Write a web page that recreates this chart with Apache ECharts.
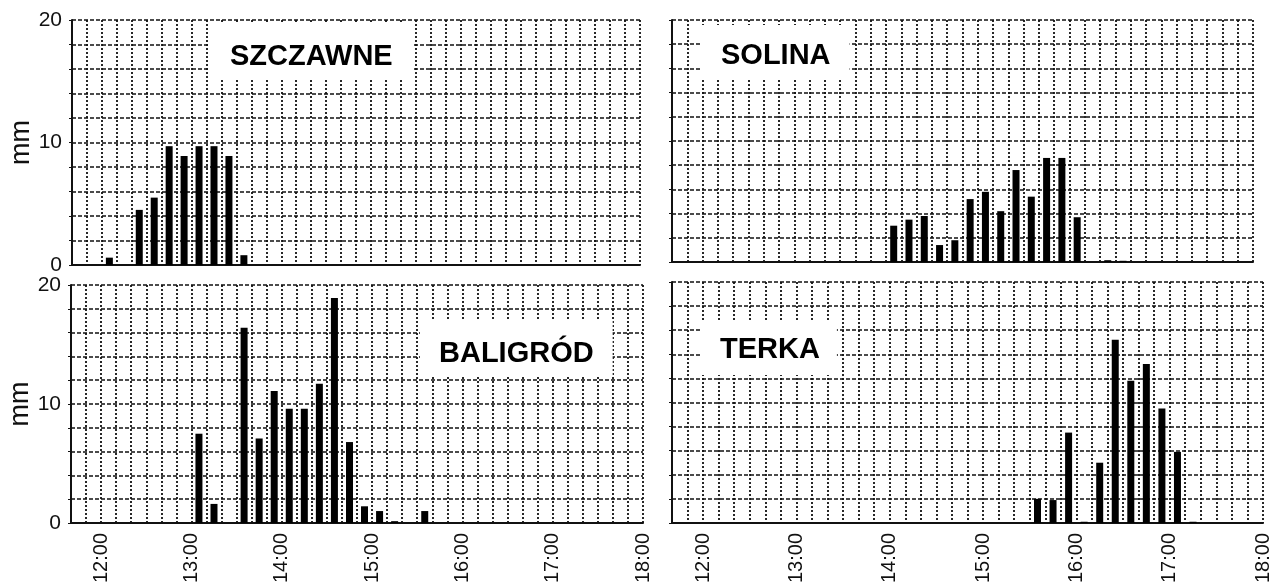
<!DOCTYPE html>
<html><head><meta charset="utf-8">
<script src="https://cdn.jsdelivr.net/npm/echarts@6/dist/echarts.min.js"></script>
<style>html,body{margin:0;padding:0;background:#fff;}#c{width:1273px;height:586px;}</style>
</head><body><div id="c"></div>
<script>
// 10-minute rainfall intervals (slot start times)
const slots = ['11:40','11:50','12:00','12:10','12:20','12:30','12:40','12:50',
  '13:00','13:10','13:20','13:30','13:40','13:50','14:00','14:10','14:20','14:30',
  '14:40','14:50','15:00','15:10','15:20','15:30','15:40','15:50','16:00','16:10',
  '16:20','16:30','16:40','16:50','17:00','17:10','17:20','17:30','17:40','17:50'];
const hourLabels = ['12:00','13:00','14:00','15:00','16:00','17:00','18:00'];
const yTickLabels = ['0','10','20'];
const stationNames = ['SZCZAWNE','SOLINA','BALIGRÓD','TERKA'];
const szczawne = [0,0,0.6,0,4.5,5.5,9.7,8.9,9.7,9.7,8.9,0.8,
  0,0,0,0,0,0,0,0,0,0,0,0,0,0,0,0,0,0,0,0,0,0,0,0,0,0];
const solina = [0,0,0,0,0,0,0,0,0,0,0,0,0,0,
  3.0,3.5,3.8,1.4,1.8,5.2,5.8,4.2,7.6,5.4,8.6,8.6,3.7,
  0,0.15,0.1,0,0,0,0,0,0,0,0];
const baligrod = [0,0,0,0,0,0,0,0,
  7.5,1.6,0,16.4,7.1,11.1,9.6,9.6,11.7,18.9,6.8,1.4,1.0,0.15,0,1.0,
  0,0,0,0,0,0,0,0,0,0,0,0,0,0];
const terka = [0,0,0,0,0,0,0,0,0,0,0,0,0,0,0,0,0,0,0,0,0,0,0,
  2.0,1.9,7.5,0.1,5.0,15.2,11.8,13.2,9.5,5.9,0.1,
  0,0,0,0];

function toMin(s){const p=s.split(':');return (+p[0])*60+(+p[1]);}
function fmtTime(v){const h=Math.floor(v/60),m=v%60;return h+':'+(m<10?'0':'')+m;}
const xMin = toMin(slots[0]);
const xMax = toMin(hourLabels[hourLabels.length-1]);
const step = toMin(slots[1]) - toMin(slots[0]);
function toData(arr){
  const out=[];
  arr.forEach((v,i)=>{ if(v>0) out.push([toMin(slots[i])+step/2, v]); });
  return out;
}
const FONT = "'Liberation Sans', Arial, sans-serif";
const grids = [
  {left:72, top:20, width:568, height:245},
  {left:672, top:20, width:581, height:242},
  {left:71, top:285, width:572, height:242},
  {left:672, top:282, width:591, height:247}
];
const vSplit = {show:true, lineStyle:{color:'#111', width:1.8, type:[2,2]}};
const hSplit = {show:true, lineStyle:{color:'#111', width:1.6, type:[4,2]}};
const xAxes = grids.map((g,i)=>({
  type:'value', gridIndex:i, min:xMin, max:xMax, interval:step,
  axisLine:{show:true, onZero:true, lineStyle:{color:'#111', width:2}},
  axisTick:{show:false},
  splitLine:vSplit,
  axisLabel:{show: i>=2, rotate:90, margin:10, fontSize:20, color:'#111', fontFamily:FONT,
    formatter:v=>{const s=fmtTime(v);return hourLabels.includes(s)?s:'';}}
}));
const yAxes = grids.map((g,i)=>({
  type:'value', gridIndex:i, min:0, max:20, interval:2,
  name: (i%2===0)?'mm':'', nameLocation:'middle', nameGap:36, nameRotate:90,
  nameTextStyle:{fontSize:27, color:'#111', fontFamily:FONT},
  axisLine:{show:true, lineStyle:{color:'#111', width:2}},
  axisTick:{show:true, length:3, lineStyle:{color:'#111'}},
  splitLine:hSplit,
  axisLabel:{show: i%2===0, fontSize:21, color:'#111', margin:10, fontFamily:FONT,
    formatter:v=>yTickLabels.includes(String(v))?String(v):''}
}));
const seriesData = [szczawne, solina, baligrod, terka];
const series = seriesData.map((arr,i)=>({
  type:'bar', xAxisIndex:i, yAxisIndex:i, data:toData(arr),
  barWidth:7, itemStyle:{color:'#000'}, z:3, silent:true
}));
const titleBoxes = [
  {left:208, top:22, padding:[20,21,6,22]},
  {left:702, top:25, padding:[16,19,9,19]},
  {left:420, top:319, padding:[20,19,8,19]},
  {left:702, top:320, padding:[15,17,10,18]}
];
const titles = titleBoxes.map((b,i)=>({
  text: stationNames[i], left:b.left, top:b.top, padding:b.padding,
  backgroundColor:'#fff', z:10,
  textStyle:{fontSize:29, fontWeight:'bold', color:'#000', fontFamily:FONT, lineHeight:30}
}));
const chart = echarts.init(document.getElementById('c'), null, {renderer:'canvas'});
chart.setOption({
  animation:false,
  backgroundColor:'#fff',
  title:titles,
  grid:grids,
  xAxis:xAxes,
  yAxis:yAxes,
  series:series
});
</script></body></html>
